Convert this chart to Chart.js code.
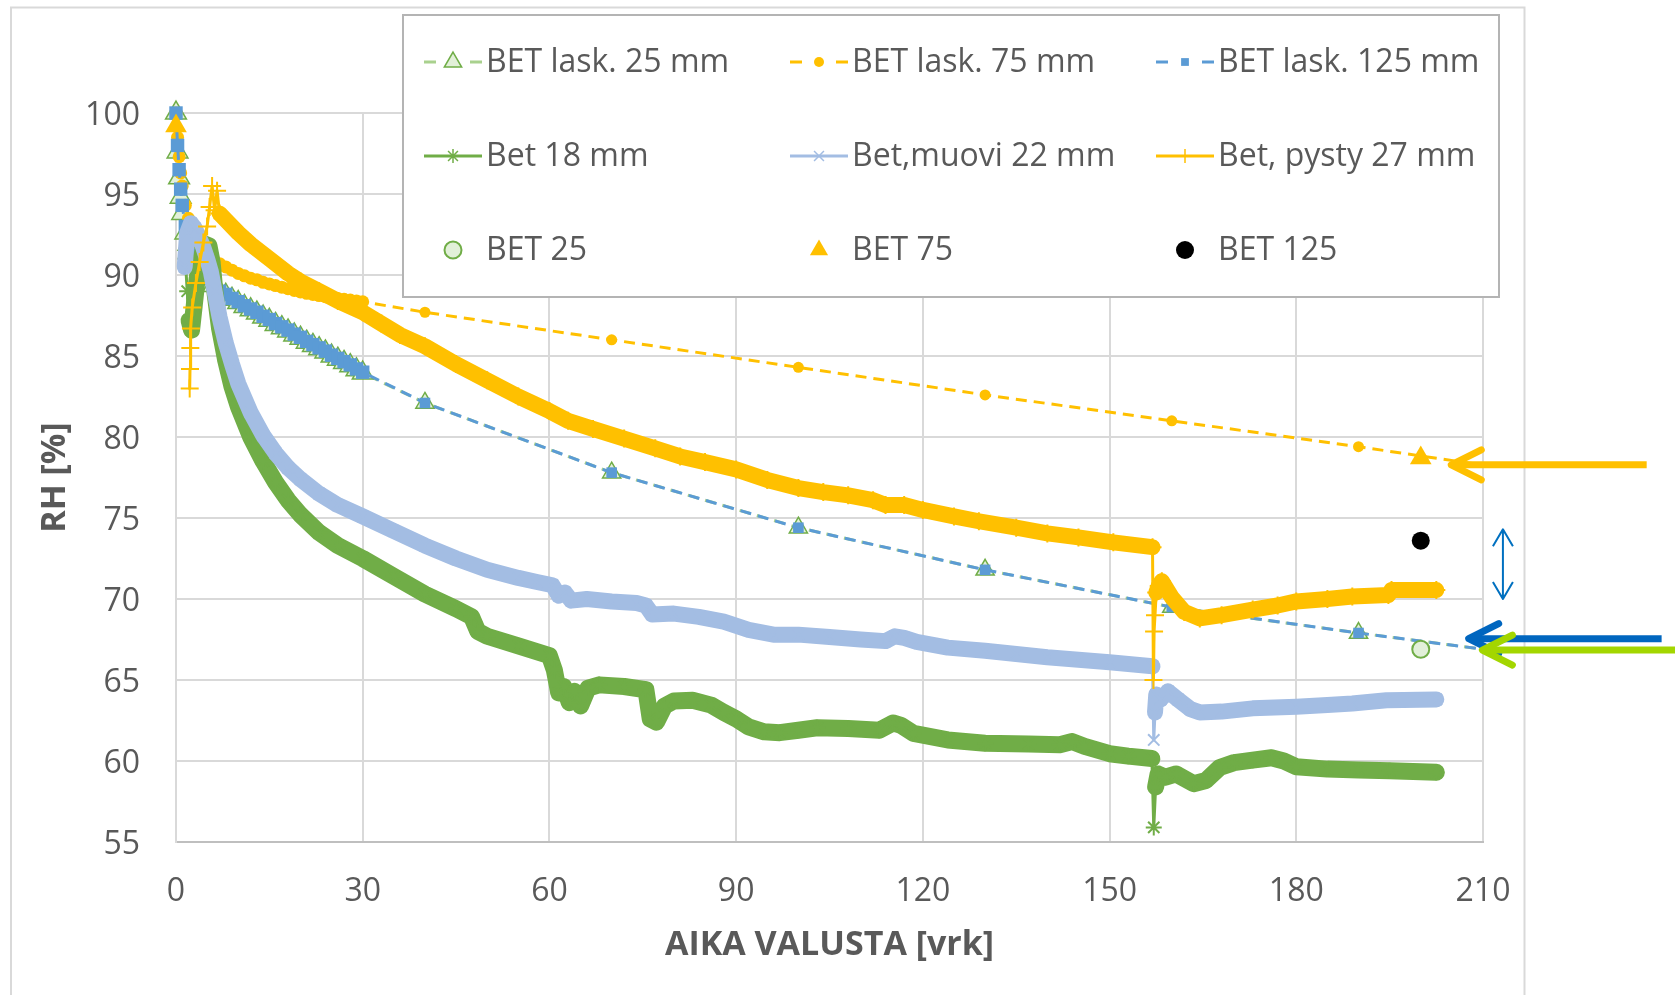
<!DOCTYPE html>
<html>
<head>
<meta charset="utf-8">
<title>RH – AIKA VALUSTA</title>
<script src="https://cdn.jsdelivr.net/npm/chart.js@4.4.1/dist/chart.umd.min.js"></script>
<style>
  html, body { margin: 0; padding: 0; background: #fff; }
  #wrap { width: 1675px; height: 995px; }
</style>
</head>
<body>
<div id="wrap"><canvas id="rh" width="1675" height="995"></canvas></div>
<script>
'use strict';

/* ---------- data ---------- */
const xTicks = [0, 30, 60, 90, 120, 150, 180, 210];
const yTicks = [55, 60, 65, 70, 75, 80, 85, 90, 95, 100];

// calculated BET curves: daily to 30 d, then every 30 d (220 is cut by the axis)
const calcDays = [0, 0.25, 0.5, 0.75, 1, 1.5, 2, 3, 4, 5, 6, 7, 8, 9, 10, 11, 12, 13, 14, 15,
  16, 17, 18, 19, 20, 21, 22, 23, 24, 25, 26, 27, 28, 29, 30, 40, 70, 100, 130, 160, 190, 220];
const lask25 = [100, 97.6, 96.0, 94.8, 93.8, 92.6, 91.9, 91.0, 90.4, 89.8, 89.35, 88.95, 88.75, 88.5,
  88.3, 88.05, 87.85, 87.65, 87.4, 87.2, 86.95, 86.75, 86.55, 86.3, 86.1, 85.85, 85.65, 85.45, 85.25,
  85.0, 84.8, 84.6, 84.4, 84.15, 83.95, 82.1, 77.8, 74.4, 71.8, 69.5, 67.9, 66.4];
const lask75 = [100, 98.5, 97.3, 96.3, 95.5, 94.3, 93.5, 92.5, 91.8, 91.3, 91.0, 90.7, 90.5, 90.3,
  90.1, 89.95, 89.8, 89.7, 89.55, 89.45, 89.35, 89.25, 89.15, 89.05, 88.95, 88.87, 88.8, 88.73, 88.66,
  88.6, 88.55, 88.5, 88.45, 88.4, 88.35, 87.7, 86.0, 84.3, 82.6, 81.0, 79.4, 77.7];
const lask125 = [100, 98.0, 96.5, 95.3, 94.3, 93.0, 92.2, 91.2, 90.5, 89.9, 89.4, 89.0, 88.8, 88.55,
  88.35, 88.1, 87.9, 87.7, 87.45, 87.25, 87.0, 86.8, 86.6, 86.35, 86.15, 85.9, 85.7, 85.5, 85.3,
  85.05, 84.85, 84.65, 84.45, 84.2, 84.0, 82.1, 77.8, 74.4, 71.8, 69.5, 67.9, 66.4];

// measured series [day, RH]
const bet18 = [[1.5, 91.0], [1.8, 89.0], [2.1, 87.2], [2.5, 86.6], [2.9, 88.0], [3.4, 89.8], [4.0, 91.0],
  [4.7, 91.9], [5.3, 91.8], [5.8, 90.8], [6.3, 88.8], [7, 86.7], [8, 84.7], [9, 83.1], [10, 81.9],
  [12, 80.0], [14, 78.5], [16, 77.2], [18, 76.1], [20, 75.2], [23, 74.1], [26, 73.3], [30, 72.5],
  [35, 71.4], [40, 70.3], [45, 69.4], [47.5, 68.9], [48.5, 68.0], [50, 67.7], [55, 67.1], [60, 66.5],
  [60.8, 65.6], [61.5, 64.2], [62.3, 64.6], [63.2, 63.6], [64, 64.3], [65, 63.4], [66.2, 64.5],
  [68, 64.7], [72, 64.6], [75.5, 64.4], [76.2, 62.6], [77.2, 62.4], [78.5, 63.4], [80, 63.7],
  [83, 63.75], [86, 63.45], [88, 63.0], [90, 62.6], [92, 62.1], [94.5, 61.8], [97, 61.75], [100, 61.9],
  [103, 62.05], [108, 62.0], [113, 61.9], [115.2, 62.35], [116.5, 62.2], [118.5, 61.7], [124, 61.3],
  [130, 61.1], [137, 61.05], [142, 61.0], [144, 61.2], [146, 60.9], [150, 60.45], [153, 60.3],
  [156.8, 60.15], [157.1, 55.9], [157.4, 58.4], [157.8, 59.2], [159, 59.0], [160.7, 59.2],
  [163.5, 58.6], [165.5, 58.8], [167.7, 59.6], [170, 59.9], [173, 60.05], [176, 60.2], [178, 60.0],
  [180, 59.65], [185, 59.5], [190, 59.45], [195, 59.4], [202.5, 59.3]];
const muovi22 = [[1.4, 90.5], [1.8, 92.6], [2.4, 93.2], [3.0, 92.9], [3.6, 92.4], [4.3, 91.8], [5.0, 91.0],
  [5.6, 90.2], [6.2, 89.0], [7, 87.4], [8, 85.8], [9, 84.5], [10, 83.3], [12, 81.5], [14, 80.1],
  [16, 79.0], [18, 78.1], [20, 77.4], [23, 76.5], [26, 75.8], [30, 75.1], [35, 74.2], [40, 73.3],
  [45, 72.5], [50, 71.8], [55, 71.3], [58, 71.05], [60.5, 70.85], [61.5, 70.2], [62.5, 70.4],
  [63.5, 69.9], [66, 70.0], [70, 69.85], [74, 69.75], [75.5, 69.6], [76.5, 69.05], [80, 69.1],
  [84, 68.9], [88, 68.6], [92, 68.1], [96, 67.8], [100, 67.8], [105, 67.65], [110, 67.5], [114, 67.4],
  [115.5, 67.7], [117, 67.6], [119, 67.35], [124, 67.0], [130, 66.8], [135, 66.6], [140, 66.4],
  [145, 66.25], [150, 66.1], [156.9, 65.85], [157.1, 61.3], [157.3, 63.0], [157.5, 64.1], [158.2, 63.8],
  [159.4, 64.3], [161, 63.8], [163, 63.2], [164.5, 63.0], [168, 63.05], [173, 63.25], [180, 63.35],
  [185, 63.45], [189, 63.55], [194.5, 63.75], [202.5, 63.8]];
const pysty27 = [[2.2, 83.0], [2.25, 84.2], [2.3, 85.5], [2.4, 86.7], [2.6, 88.0], [3.2, 89.5], [3.8, 90.8],
  [4.4, 92.0], [5.0, 93.0], [5.4, 94.2], [5.8, 95.5], [6.2, 94.0], [6.6, 95.2], [7.0, 93.8], [8, 93.4],
  [10, 92.6], [12, 91.9], [15, 91.0], [18, 90.1], [20, 89.6], [23, 89.0], [26, 88.4], [30, 87.7],
  [33, 87.0], [36, 86.3], [40, 85.6], [45, 84.5], [50, 83.5], [55, 82.5], [60, 81.6], [63, 81.0],
  [67, 80.5], [72, 79.9], [77, 79.3], [81, 78.8], [85, 78.45], [90, 78.0], [95, 77.35], [100, 76.85],
  [104, 76.6], [108, 76.4], [112, 76.1], [114, 75.8], [117, 75.8], [120, 75.5], [125, 75.1],
  [129, 74.8], [135, 74.4], [140, 74.05], [145, 73.8], [150.6, 73.5], [156.9, 73.2], [157.05, 65.0],
  [157.15, 68.0], [157.3, 69.0], [157.5, 70.4], [157.9, 70.8], [158.4, 71.1], [160, 70.1], [162, 69.2],
  [164.5, 68.8], [168, 69.0], [173, 69.35], [177, 69.6], [180, 69.85], [185, 70.0], [189, 70.15],
  [194.8, 70.25], [195.3, 70.55], [202.5, 70.55]];

// single BET points
const bet25Pts = [[200, 66.9]];
const bet75Pts = [[0, 99.2], [200, 78.7]];
const bet125Pts = [[200, 73.6]];

// hand-drawn arrows on the right: tail day -> tip day at RH
const arrowNotes = [
  { from: 236.3, to: 204.9, rh: 78.28, color: '#ffc000' },
  { from: 238.7, to: 207.7, rh: 67.55, color: '#0066bf' },
  { from: 242.0, to: 209.9, rh: 66.85, color: '#a3d600' }
];
const rangeNote = { day: 213.2, top: 74.3, bottom: 70.0, color: '#0070c0' };

/* ---------- look ---------- */
const FONT = "'Open Sans', 'DejaVu Sans', sans-serif";
const TXT = '#595959';
const ORANGE = '#ffc000';
const BLUE = '#5b9bd5';
const GREEN = '#70ad47';
const LGREEN = '#a9d18e';
const LGREEN_FILL = '#e2f0d9';
const LBLUE = '#a3bde3';

const xy = (xs, ys) => xs.map((x, i) => ({ x, y: ys[i] }));
const pts = arr => arr.map(([x, y]) => ({ x, y }));

// thick band; thin during a start-up scatter and where the record jumps almost vertically
function band(series, wide, thinBefore) {
    return ctx => {
        if (series[ctx.p1DataIndex][0] <= thinBefore) return 3;
        const dx = Math.abs(ctx.p1.x - ctx.p0.x), dy = Math.abs(ctx.p1.y - ctx.p0.y);
        return (dy > 8 && dy > 15 * dx) ? 3 : wide;
    };
}
// markers in the daily part overlap into a band, a little bigger than the lone ones
const calcRadius = (dense, sparse) => ctx => (calcDays[ctx.dataIndex] <= 30 ? dense : sparse);

const calcClip = { left: 30, top: 30, right: 0, bottom: 30 };

const datasets = [
    { label: 'BET lask. 25 mm', data: xy(calcDays, lask25), borderColor: LGREEN, borderWidth: 3,
      borderDash: [11, 7], pointStyle: 'triangle', pointRadius: calcRadius(12, 10.5), pointBorderWidth: 1.5,
      pointBackgroundColor: LGREEN_FILL, pointBorderColor: GREEN, clip: calcClip },
    { label: 'BET lask. 75 mm', data: xy(calcDays, lask75), borderColor: ORANGE, borderWidth: 3,
      borderDash: [11, 7], pointStyle: 'circle', pointRadius: calcRadius(6.5, 5.5), pointBorderWidth: 0,
      pointBackgroundColor: ORANGE, pointBorderColor: ORANGE, clip: calcClip },
    { label: 'BET lask. 125 mm', data: xy(calcDays, lask125), borderColor: BLUE, borderWidth: 3,
      borderDash: [11, 7], pointStyle: 'rect', pointRadius: calcRadius(9.5, 7.5), pointBorderWidth: 0,
      pointBackgroundColor: BLUE, pointBorderColor: BLUE, clip: calcClip },
    { label: 'Bet 18 mm', data: pts(bet18), borderColor: GREEN, pointStyle: 'star', pointRadius: 8,
      pointBorderWidth: 2, pointBorderColor: GREEN, pointBackgroundColor: GREEN,
      borderCapStyle: 'round', borderJoinStyle: 'round', segment: { borderWidth: band(bet18, 17, -1) } },
    { label: 'Bet,muovi 22 mm', data: pts(muovi22), borderColor: LBLUE, pointStyle: 'crossRot', pointRadius: 8,
      pointBorderWidth: 2, pointBorderColor: LBLUE, pointBackgroundColor: LBLUE,
      borderCapStyle: 'round', borderJoinStyle: 'round', segment: { borderWidth: band(muovi22, 16, -1) } },
    { label: 'Bet, pysty 27 mm', data: pts(pysty27), borderColor: ORANGE, pointStyle: 'cross', pointRadius: 9,
      pointBorderWidth: 2, pointBorderColor: ORANGE, pointBackgroundColor: ORANGE,
      borderCapStyle: 'round', borderJoinStyle: 'round', segment: { borderWidth: band(pysty27, 16, 7.0) } },
    { label: 'BET 25', data: pts(bet25Pts), showLine: false, pointStyle: 'circle', pointRadius: 8.5,
      pointBorderWidth: 2, pointBackgroundColor: LGREEN_FILL, pointBorderColor: GREEN, clip: false },
    { label: 'BET 75', data: pts(bet75Pts), showLine: false, pointStyle: 'triangle', pointRadius: 12.5,
      pointBorderWidth: 0, pointBackgroundColor: ORANGE, pointBorderColor: ORANGE, clip: false },
    { label: 'BET 125', data: pts(bet125Pts), showLine: false, pointStyle: 'circle', pointRadius: 9,
      pointBorderWidth: 0, pointBackgroundColor: '#000', pointBorderColor: '#000', clip: false }
];
// Excel draws later series on top
datasets.forEach((d, i) => { d.order = datasets.length - i; d.tension = 0; });

/* legend symbols, 3 x 3 like the original */
const legendLook = [
    { dash: true,  color: LGREEN, style: 'triangle', r: 10, fill: LGREEN_FILL, stroke: GREEN, bw: 1.5 },
    { dash: true,  color: ORANGE, style: 'circle', r: 5, fill: ORANGE, stroke: ORANGE, bw: 0 },
    { dash: true,  color: BLUE, style: 'rect', r: 5.5, fill: BLUE, stroke: BLUE, bw: 0 },
    { line: true,  color: GREEN, style: 'star', r: 7, fill: GREEN, stroke: GREEN, bw: 1.5 },
    { line: true,  color: LBLUE, style: 'crossRot', r: 7, fill: LBLUE, stroke: LBLUE, bw: 1.5 },
    { line: true,  color: ORANGE, style: 'cross', r: 7, fill: ORANGE, stroke: ORANGE, bw: 1.5 },
    { style: 'circle', r: 8.5, fill: LGREEN_FILL, stroke: GREEN, bw: 2 },
    { style: 'triangle', r: 10.5, fill: ORANGE, stroke: ORANGE, bw: 0 },
    { style: 'circle', r: 9, fill: '#000', stroke: '#000', bw: 0 }
];

const decorations = {
    id: 'decorations',
    beforeDraw(chart) {
        const c = chart.ctx;
        c.save();
        c.fillStyle = '#fff';
        c.fillRect(0, 0, chart.width, chart.height);
        c.strokeStyle = '#d9d9d9';
        c.lineWidth = 2;
        c.strokeRect(11, 7.5, 1513.5, 1000);
        c.restore();
    },
    afterDraw(chart) {
        const c = chart.ctx;
        const xs = chart.scales.x, ys = chart.scales.y;
        c.save();

        // legend box
        const bx = 403, by = 15, bw = 1096, bh = 282;
        c.fillStyle = '#fff';
        c.fillRect(bx, by, bw, bh);
        c.strokeStyle = '#b4b4b4';
        c.lineWidth = 2;
        c.strokeRect(bx, by, bw, bh);

        const cols = [424, 790, 1156], rows = [62, 156, 250];
        c.font = '32px ' + FONT;
        c.textBaseline = 'middle';
        datasets.forEach((d, i) => {
            const L = legendLook[i];
            const x0 = cols[i % 3], y = rows[Math.floor(i / 3)];
            const cx = x0 + 29;
            c.strokeStyle = L.color || L.stroke;
            c.lineWidth = 3;
            c.setLineDash([]);
            if (L.dash) {
                c.beginPath();
                c.moveTo(x0, y); c.lineTo(x0 + 12, y);
                c.moveTo(x0 + 46, y); c.lineTo(x0 + 58, y);
                c.stroke();
            } else if (L.line) {
                c.beginPath();
                c.moveTo(x0, y); c.lineTo(x0 + 58, y);
                c.stroke();
            }
            c.fillStyle = L.fill;
            c.strokeStyle = L.stroke;
            c.lineWidth = L.bw || 1;
            Chart.helpers.drawPoint(c, { pointStyle: L.style, radius: L.r, rotation: 0, borderWidth: L.bw }, cx, y);
            c.fillStyle = TXT;
            c.textAlign = 'left';
            c.fillText(d.label, x0 + 62, y + 1);
        });

        // arrows pointing at the curve ends
        c.lineWidth = 7;
        arrowNotes.forEach(a => {
            const tx = xs.getPixelForValue(a.to), ty = ys.getPixelForValue(a.rh);
            const fx = xs.getPixelForValue(a.from);
            c.strokeStyle = a.color;
            c.lineCap = 'butt';
            c.beginPath();
            c.moveTo(fx, ty); c.lineTo(tx + 4, ty);
            c.stroke();
            c.lineCap = 'round';
            c.lineJoin = 'round';
            c.beginPath();
            c.moveTo(tx + 30, ty - 15); c.lineTo(tx, ty); c.lineTo(tx + 30, ty + 15);
            c.stroke();
        });

        // thin double arrow
        const rx = xs.getPixelForValue(rangeNote.day);
        const rt = ys.getPixelForValue(rangeNote.top), rb = ys.getPixelForValue(rangeNote.bottom);
        c.strokeStyle = rangeNote.color;
        c.lineWidth = 2;
        c.lineCap = 'butt';
        c.beginPath();
        c.moveTo(rx, rt); c.lineTo(rx, rb);
        c.moveTo(rx - 10, rt + 17); c.lineTo(rx, rt); c.lineTo(rx + 10, rt + 17);
        c.moveTo(rx - 10, rb - 17); c.lineTo(rx, rb); c.lineTo(rx + 10, rb - 17);
        c.stroke();

        c.restore();
    }
};

new Chart(document.getElementById('rh'), {
    type: 'line',
    data: { datasets },
    plugins: [decorations],
    options: {
        responsive: false,
        devicePixelRatio: 1,
        animation: false,
        layout: { padding: { left: 0, top: 113, right: 192, bottom: 0 } },
        plugins: { legend: { display: false }, tooltip: { enabled: false } },
        scales: {
            x: {
                type: 'linear', min: 0, max: 210,
                afterBuildTicks: axis => { axis.ticks = xTicks.map(v => ({ value: v })); },
                afterFit: axis => { axis.height = 153; },
                grid: { color: '#d9d9d9', lineWidth: 2, drawTicks: false },
                border: { color: '#bfbfbf', width: 2 },
                ticks: { font: { family: FONT, size: 32 }, color: TXT, padding: 31, maxRotation: 0, autoSkip: false },
                title: { display: true, text: 'AIKA VALUSTA [vrk]', color: TXT,
                         font: { family: FONT, size: 34, weight: 'bold' }, padding: { top: 0, bottom: 29 } }
            },
            y: {
                type: 'linear', min: 55, max: 100,
                afterBuildTicks: axis => { axis.ticks = yTicks.map(v => ({ value: v })); },
                afterFit: axis => { axis.width = 176; },
                grid: { color: '#d9d9d9', lineWidth: 2, drawTicks: false },
                border: { color: '#d9d9d9', width: 2 },
                ticks: { font: { family: FONT, size: 32 }, color: TXT, padding: 36, labelOffset: 3, autoSkip: false },
                title: { display: true, text: 'RH [%]', color: TXT,
                         font: { family: FONT, size: 34, weight: 'bold' }, padding: { top: 35, bottom: 0 } }
            }
        }
    }
});
</script>
</body>
</html>
